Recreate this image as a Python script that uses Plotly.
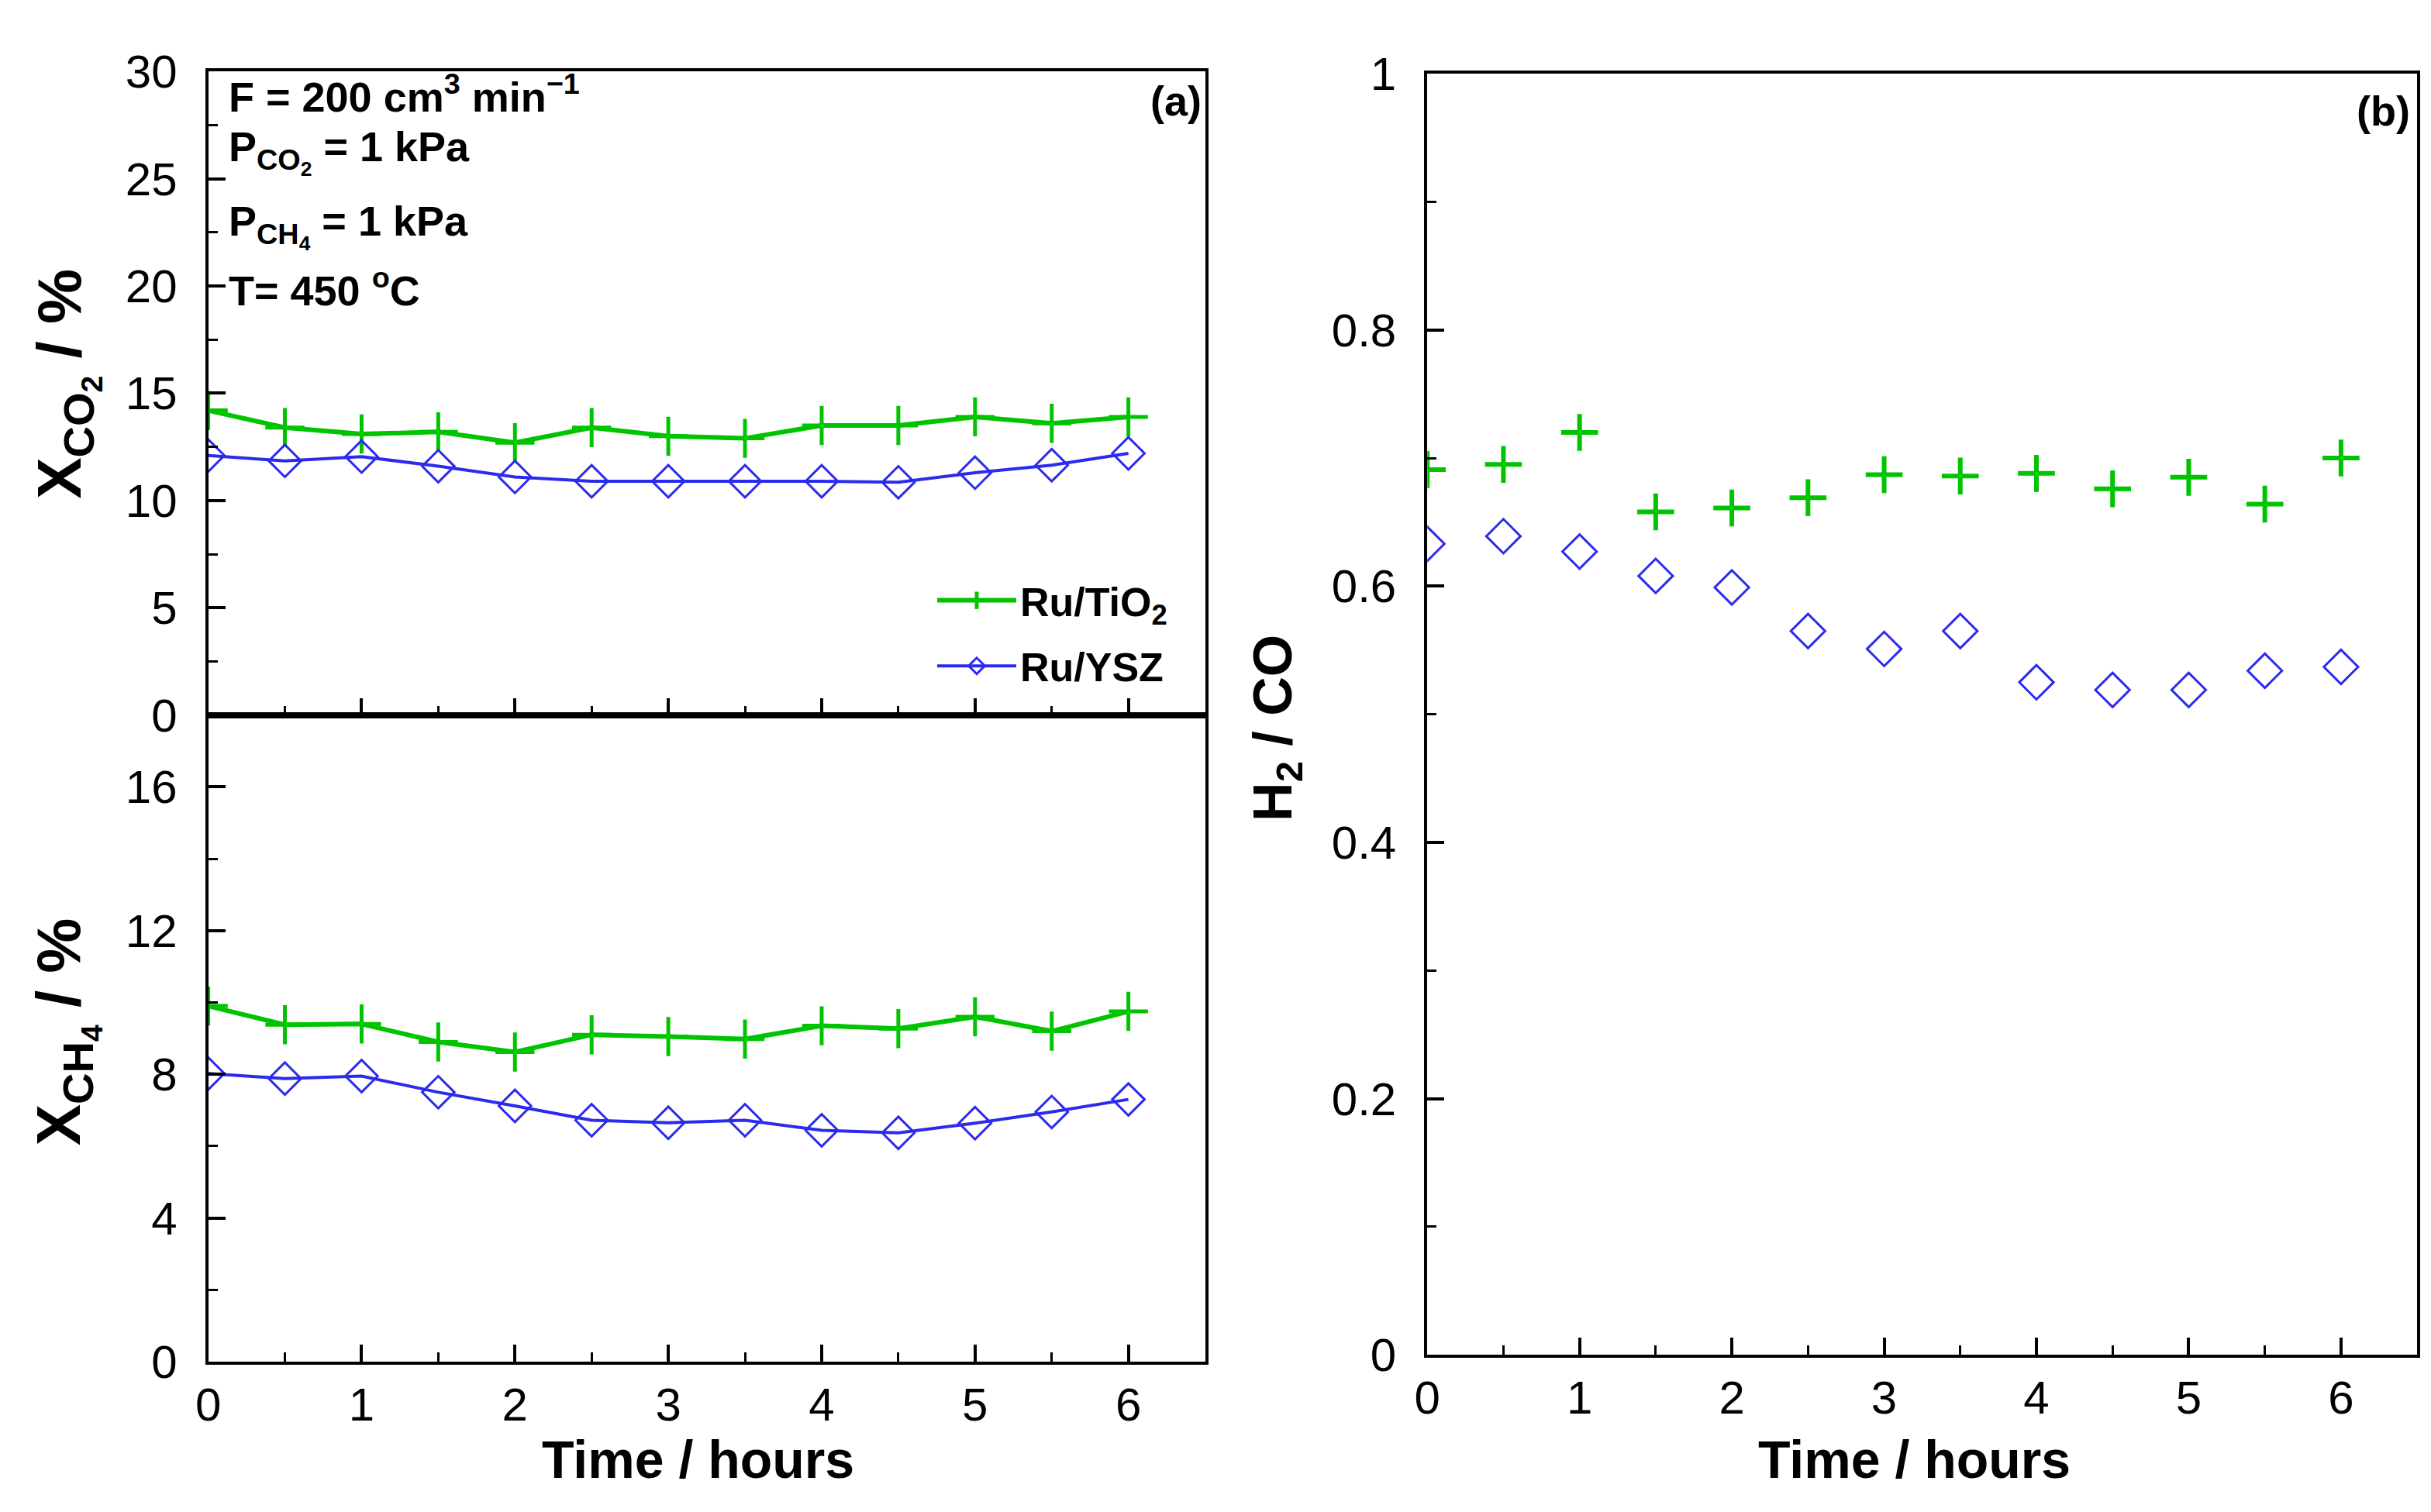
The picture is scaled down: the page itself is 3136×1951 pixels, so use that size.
import plotly.graph_objects as go

# time on stream, hours
time_h = [0, 0.5, 1, 1.5, 2, 2.5, 3, 3.5, 4, 4.5, 5, 5.5, 6]

# CO2 conversion, %
xco2_tio2 = [14.2, 13.4, 13.1, 13.2, 12.7, 13.4, 13.0, 12.9, 13.5, 13.5, 13.9, 13.6, 13.9]
xco2_ysz = [12.1, 11.85, 12.05, 11.6, 11.1, 10.9, 10.9, 10.9, 10.9, 10.85, 11.3, 11.65, 12.2]

# CH4 conversion, %
xch4_tio2 = [9.9, 9.38, 9.4, 8.9, 8.62, 9.1, 9.05, 8.98, 9.35, 9.27, 9.6, 9.2, 9.75]
xch4_ysz = [8.02, 7.88, 7.95, 7.5, 7.12, 6.72, 6.65, 6.72, 6.44, 6.37, 6.64, 6.95, 7.3]

# H2/CO ratio
h2co_tio2 = [0.691, 0.695, 0.72, 0.658, 0.661, 0.669, 0.687, 0.686, 0.688, 0.676, 0.685, 0.664, 0.70]
h2co_ysz = [0.633, 0.639, 0.627, 0.608, 0.599, 0.565, 0.551, 0.565, 0.525, 0.519, 0.519, 0.534, 0.537]

names = ["Ru/TiO<sub>2</sub>", "Ru/YSZ"]

GREEN = "#00C400"
BLUE = "#2B2BEE"
FONT = "Liberation Sans, Arial, sans-serif"

cross_a = dict(symbol="cross-thin-open", size=36, color=GREEN, line=dict(color=GREEN, width=5))
diam_a = dict(symbol="diamond-open", size=32, color=BLUE, line=dict(color=BLUE, width=3))

fig = go.Figure()

# panel (a) top: CO2
fig.add_trace(go.Scatter(x=time_h, y=xco2_tio2, name=names[0], legendgroup="g1", xaxis="x2", yaxis="y2",
                         mode="lines+markers", line=dict(color=GREEN, width=6), marker=cross_a))
fig.add_trace(go.Scatter(x=time_h, y=xco2_ysz, name=names[1], legendgroup="g2", xaxis="x2", yaxis="y2",
                         mode="lines+markers", line=dict(color=BLUE, width=4), marker=diam_a))

# panel (a) bottom: CH4
fig.add_trace(go.Scatter(x=time_h, y=xch4_tio2, showlegend=False, xaxis="x", yaxis="y",
                         mode="lines+markers", line=dict(color=GREEN, width=6), marker=cross_a))
fig.add_trace(go.Scatter(x=time_h, y=xch4_ysz, showlegend=False, xaxis="x", yaxis="y",
                         mode="lines+markers", line=dict(color=BLUE, width=4), marker=diam_a))

# panel (b): H2/CO
fig.add_trace(go.Scatter(x=time_h, y=h2co_tio2, showlegend=False, xaxis="x3", yaxis="y3",
                         mode="markers",
                         marker=dict(symbol="cross-thin-open", size=34, color=GREEN,
                                     line=dict(color=GREEN, width=6))))
fig.add_trace(go.Scatter(x=time_h, y=h2co_ysz, showlegend=False, xaxis="x3", yaxis="y3",
                         mode="markers",
                         marker=dict(symbol="diamond-open", size=34, color=BLUE, line=dict(color=BLUE, width=3))))

tickfont = dict(family=FONT, size=60, color="black")
common = dict(showline=True, linecolor="black", linewidth=4, mirror=True, ticks="inside",
              tickcolor="black", tickwidth=4, ticklen=22, tickfont=tickfont,
              showgrid=False, zeroline=False)

xl = [0.0781, 0.4904]
xr = [0.5823, 0.9917]


def minor(step):
    return dict(ticks="inside", dtick=step, ticklen=12, tickwidth=3, tickcolor="black")


fig.update_layout(
    width=3136, height=1951,
    paper_bgcolor="white", plot_bgcolor="white",
    margin=dict(l=0, r=0, t=0, b=0),
    font=dict(family=FONT, color="black"),
    xaxis=dict(domain=xl, anchor="y", range=[0, 6.5], dtick=1, tick0=0,
               ticklabelstandoff=0, minor=minor(0.5), **common),
    yaxis=dict(domain=[0.0892, 0.532], anchor="x", range=[0, 18], dtick=4, tick0=0,
               ticklabelstandoff=24, minor=minor(2), **common),
    xaxis2=dict(domain=xl, anchor="y2", range=[0, 6.5], dtick=1, tick0=0,
                showticklabels=False, minor=minor(0.5), **common),
    yaxis2=dict(domain=[0.532, 0.9728], anchor="x2", range=[0, 30], dtick=5, tick0=0,
                ticklabelstandoff=24, minor=minor(2.5), **common),
    xaxis3=dict(domain=xr, anchor="y3", range=[0, 6.5], dtick=1, tick0=0,
                ticklabelstandoff=0, minor=minor(0.5), **common),
    yaxis3=dict(domain=[0.0938, 0.9713], anchor="x3", range=[0, 1], dtick=0.2, tick0=0,
                ticklabelstandoff=24, minor=minor(0.1), **common),
    legend=dict(x=0.378, y=0.632, xanchor="left", yanchor="top", bgcolor="rgba(0,0,0,0)",
                font=dict(family=FONT, size=52, color="black", weight="bold"), itemwidth=102,
                traceorder="grouped", tracegroupgap=14),
)

bold = dict(family=FONT, color="black", weight="bold")
ann = []
# axis titles
ann.append(dict(text="Time / hours", x=0.2806, y=0.0225, font=dict(size=68, **bold)))
ann.append(dict(text="Time / hours", x=0.7838, y=0.0225, font=dict(size=68, **bold)))
ann.append(dict(text="X<sub>CO<sub>2</sub></sub> / %", x=0.0195, y=0.759, textangle=-90,
                font=dict(size=80, **bold)))
ann.append(dict(text="X<sub>CH<sub>4</sub></sub> / %", x=0.0195, y=0.315, textangle=-90,
                font=dict(size=80, **bold)))
ann.append(dict(text="H<sub>2</sub> / CO", x=0.5198, y=0.523, textangle=-90,
                font=dict(size=70, **bold)))
# panel labels
ann.append(dict(text="(a)", x=0.4895, y=0.953, xanchor="right", font=dict(size=54, **bold)))
ann.append(dict(text="(b)", x=0.9895, y=0.946, xanchor="right", font=dict(size=54, **bold)))
# conditions
ann.append(dict(text="F = 200 cm<sup>3</sup> min<sup>\u22121</sup>", x=0.086, y=0.9575,
                xanchor="left", font=dict(size=54, **bold)))
ann.append(dict(text="P<sub>CO<sub>2</sub></sub> = 1 kPa", x=0.086, y=0.9175,
                xanchor="left", font=dict(size=54, **bold)))
ann.append(dict(text="P<sub>CH<sub>4</sub></sub> = 1 kPa", x=0.086, y=0.867,
                xanchor="left", font=dict(size=54, **bold)))
ann.append(dict(text="T= 450 <sup>o</sup>C", x=0.086, y=0.8247,
                xanchor="left", font=dict(size=54, **bold)))

for a in ann:
    a.setdefault("xanchor", "center")
    a.setdefault("yanchor", "middle")
    fig.add_annotation(xref="paper", yref="paper", showarrow=False, **a)

fig.write_html("out.html")
